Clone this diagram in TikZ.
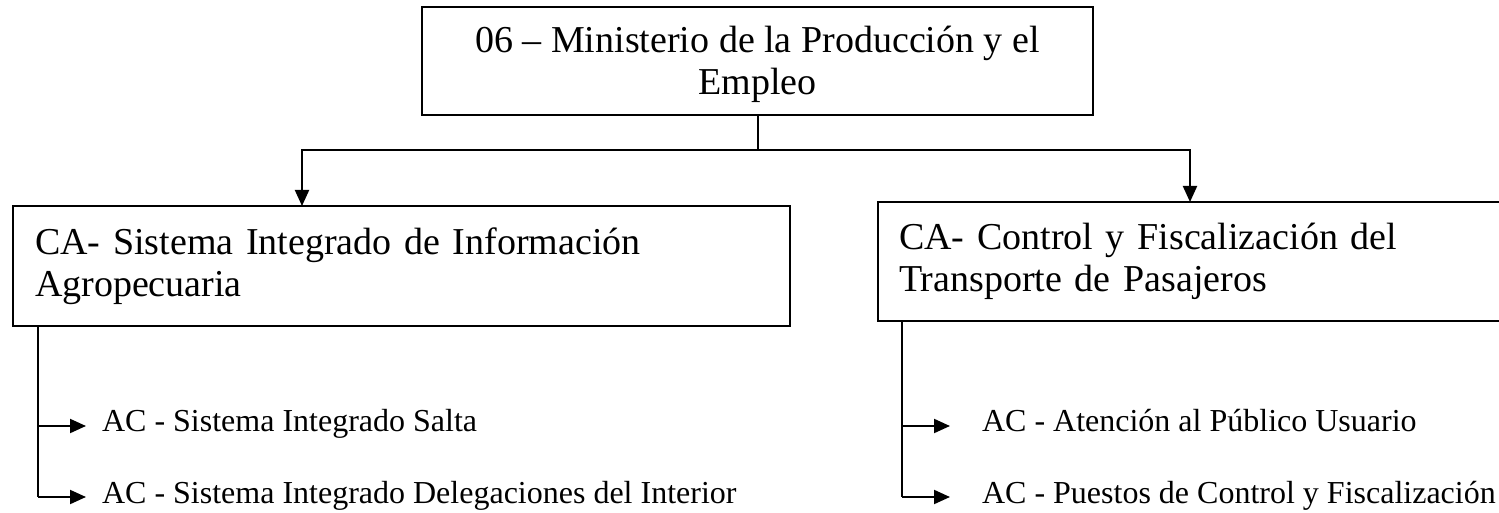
\documentclass[tikz,border=0pt]{standalone}
\usepackage{fontspec}
\setmainfont{Liberation Serif}
\usetikzlibrary{arrows.meta}
\begin{document}
\begin{tikzpicture}[x=0.5pt,y=-0.5pt,
  box/.style={draw,line width=1pt,inner sep=0pt},
  topfont/.style={font=\fontsize{19}{21}\selectfont},
  cafont/.style={font=\fontsize{19}{21}\selectfont},
  acfont/.style={font=\fontsize{16}{19}\selectfont},
  conn/.style={line width=1pt},
  arr/.style={line width=1pt,-{Triangle[length=8pt,width=7pt]}}]
\useasboundingbox (0,0) rectangle (1499,513);
\node[box,topfont,minimum width=335.5pt,minimum height=54pt,align=center] (top) at (757.5,61)
  {\rule{0pt}{17pt}06 – Ministerio de la Producción y el\\Empleo};
\node[box,cafont,minimum width=388.5pt,minimum height=60pt,text width=366.5pt,align=left] (left) at (401.5,266)
  {CA- Sistema Integrado de Información\\Agropecuaria};
\node[box,cafont,minimum width=331pt,minimum height=59.5pt,text width=310pt,align=left] (right) at (1209,261.5)
  {CA- Control y Fiscalización del\\Transporte de Pasajeros};
\coordinate (j) at (757.5,150);
\draw[conn] (top.south) -- (j);
\draw[arr] (j) -| (302,206) coordinate (la);
\draw[arr] (j) -| (1190,202) coordinate (ra);
\node[acfont,anchor=base west] (l1) at (95,431) {AC - Sistema Integrado Salta};
\node[acfont,anchor=base west] (l2) at (95,503) {AC - Sistema Integrado Delegaciones del Interior};
\node[acfont,anchor=base west] (r1) at (975,431) {AC - Atención al Público Usuario};
\node[acfont,anchor=base west] (r2) at (975,503) {AC - Puestos de Control y Fiscalización};
\coordinate (lv) at (38,497);
\coordinate (rv) at (902,497);
\draw[conn] (left.south -| lv) -- (lv);
\draw[arr] (38,426) -- (86,426);
\draw[arr] (lv) -- (86,497);
\draw[conn] (right.south -| rv) -- (rv);
\draw[arr] (902,426) -- (950,426);
\draw[arr] (rv) -- (950,497);
\end{tikzpicture}
\end{document}
